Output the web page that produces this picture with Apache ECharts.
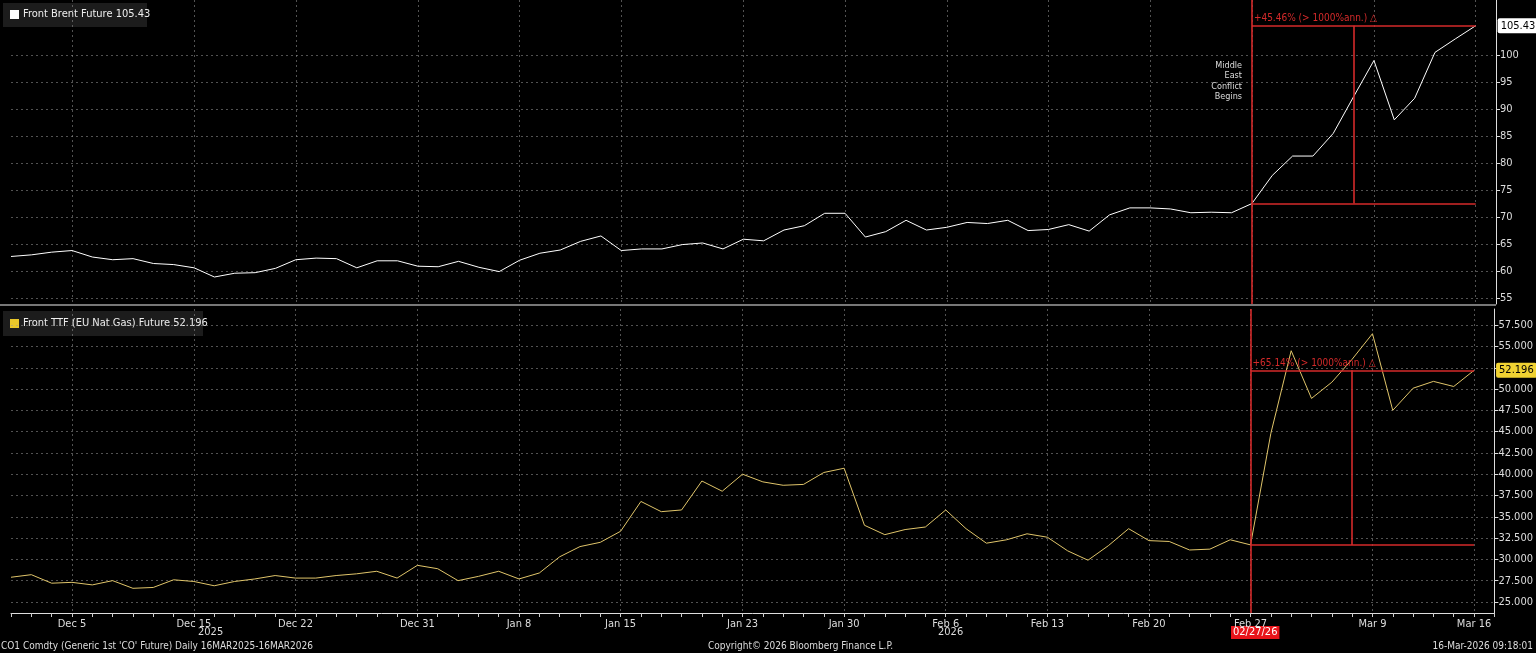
<!DOCTYPE html>
<html><head><meta charset="utf-8">
<script src="https://cdn.jsdelivr.net/npm/echarts@6/dist/echarts.min.js"></script>
<style>html,body{margin:0;padding:0;background:#000}#c{width:1536px;height:653px}</style>
</head><body><div id="c"></div>
<script>
const dates = ['Dec 2','Dec 3','Dec 4','Dec 5','Dec 8','Dec 9','Dec 10','Dec 11','Dec 12','Dec 15','Dec 16','Dec 17','Dec 18','Dec 19','Dec 22','Dec 23','Dec 24','Dec 26','Dec 29','Dec 30','Dec 31','Jan 2','Jan 5','Jan 6','Jan 7','Jan 8','Jan 9','Jan 12','Jan 13','Jan 14','Jan 15','Jan 16','Jan 19','Jan 20','Jan 21','Jan 22','Jan 23','Jan 26','Jan 27','Jan 28','Jan 29','Jan 30','Feb 2','Feb 3','Feb 4','Feb 5','Feb 6','Feb 9','Feb 10','Feb 11','Feb 12','Feb 13','Feb 16','Feb 17','Feb 18','Feb 19','Feb 20','Feb 23','Feb 24','Feb 25','Feb 26','Feb 27','Mar 2','Mar 3','Mar 4','Mar 5','Mar 6','Mar 9','Mar 10','Mar 11','Mar 12','Mar 13','Mar 16'];
const brent = [62.7,63.0,63.5,63.8,62.6,62.1,62.3,61.4,61.2,60.6,58.9,59.6,59.7,60.5,62.1,62.4,62.3,60.6,61.9,61.9,60.9,60.8,61.8,60.7,59.9,62.0,63.3,63.9,65.5,66.5,63.8,64.1,64.1,64.9,65.2,64.1,65.9,65.6,67.6,68.4,70.7,70.7,66.3,67.3,69.4,67.6,68.1,69.0,68.8,69.4,67.5,67.7,68.6,67.4,70.4,71.7,71.7,71.5,70.8,70.9,70.8,72.5,77.7,81.3,81.3,85.5,92.3,99.0,88.0,92.0,100.5,103.0,105.43];
const ttf = [27.9,28.2,27.2,27.3,27.0,27.5,26.6,26.7,27.6,27.4,26.9,27.4,27.7,28.1,27.8,27.8,28.1,28.3,28.6,27.8,29.3,28.9,27.5,28.0,28.6,27.7,28.4,30.3,31.5,32.0,33.3,36.8,35.6,35.8,39.2,38.0,40.0,39.1,38.7,38.8,40.2,40.7,34.0,32.9,33.5,33.8,35.8,33.6,31.9,32.3,33.0,32.6,31.0,29.9,31.6,33.6,32.2,32.1,31.1,31.2,32.3,31.7,44.8,54.5,48.9,50.8,53.5,56.5,47.5,50.1,50.9,50.3,52.196];
const xLabels = ['Dec 5','Dec 15','Dec 22','Dec 31','Jan 8','Jan 15','Jan 23','Jan 30','Feb 6','Feb 13','Feb 20','Feb 27','Mar 9','Mar 16'];
const brentTicks = [55,60,65,70,75,80,85,90,95,100];
const ttfTicks = [25,27.5,30,32.5,35,37.5,40,42.5,45,47.5,50,52.5,55,57.5];
const eventDate = 'Feb 27', measureDate = 'Mar 6';

const FF = 'DejaVu Sans Condensed, DejaVu Sans';
const RED = '#d42a2a', GOLD = '#e0c56a';
const axisCats = dates.concat(['']);
const isLab = (i,v)=> xLabels.indexOf(v)>=0;
const grid = 'rgba(150,150,150,0.55)';
const bStart = brent[dates.indexOf(eventDate)], bEnd = brent[brent.length-1];
const tStart = ttf[dates.indexOf(eventDate)], tEnd = ttf[ttf.length-1];
const last = dates[dates.length-1];
const LS = {color:RED, type:'solid', width:1.6, opacity:1};
function xa(idx, showLabels){
  return {type:'category', gridIndex:idx, data:axisCats, boundaryGap:false,
    axisLine:{show:showLabels, lineStyle:{color:'#ddd'}},
    axisTick:{show:showLabels, interval:0, length:4, lineStyle:{color:'#ccc'}},
    axisLabel:{show:showLabels, interval:isLab, color:'#ddd', fontFamily:FF, fontSize:11, margin:6},
    splitLine:{show:true, interval:isLab, lineStyle:{color:grid, type:[2,3]}}};
}
function ya(idx,min,max,ticks,fmt){
  return {type:'value', gridIndex:idx, position:'right', min:min, max:max,
    axisLine:{show:true, lineStyle:{color:'#ddd'}},
    axisTick:{show:true, length:4, customValues:ticks, lineStyle:{color:'#ddd'}},
    axisLabel:{customValues:ticks, color:'#ddd', fontFamily:FF, fontSize:11, margin:4, formatter:fmt},
    splitLine:{show:true, lineStyle:{color:grid, type:[2,3]}}};
}
function seg(a,b,extra){
  return [Object.assign({coord:a, lineStyle:LS}, extra||{}), {coord:b, lineStyle:LS}];
}
function marks(start, end, txt){
  return {silent:true, symbol:'none', lineStyle:LS, label:{show:false},
    emphasis:{disabled:true},
    data:[
      seg([eventDate,start],[last,start]),
      seg([eventDate,end],[last,end],{label:{show:true, position:'insideStartBottom', formatter:txt, color:RED, fontFamily:FF, fontSize:10, distance:[2,-12]}}),
      seg([measureDate,start],[measureDate,end]),
      {xAxis:eventDate, lineStyle:LS}
    ]};
}
const chart = echarts.init(document.getElementById('c'));
chart.setOption({
  backgroundColor:'#000', animation:false,
  grid:[{left:11,right:40,top:0,height:304},{left:11,right:40,top:309,height:304}],
  xAxis:[xa(0,false), xa(1,true)],
  yAxis:[ya(0,53.9,110.2,brentTicks,v=>String(v)), ya(1,23.7,59.4,ttfTicks,v=>v.toFixed(3))],
  series:[
    {type:'line', xAxisIndex:0, yAxisIndex:0, data:brent, symbol:'none', lineStyle:{color:'#fff',width:1},
     emphasis:{disabled:true},
     endLabel:{show:true, formatter:()=>bEnd.toFixed(2), distance:22, color:'#000', backgroundColor:'#fff', padding:[2,3], borderRadius:2, fontFamily:FF, fontSize:11},
     markLine:marks(bStart,bEnd,'+45.46% (> 1000%ann.) \u25B3')},
    {type:'line', xAxisIndex:1, yAxisIndex:1, data:ttf, symbol:'none', lineStyle:{color:GOLD,width:1},
     emphasis:{disabled:true},
     endLabel:{show:true, formatter:()=>tEnd.toFixed(3), distance:22, color:'#000', backgroundColor:'#f0d232', padding:[2,3], borderRadius:2, fontFamily:FF, fontSize:11},
     markLine:marks(tStart,tEnd,'+65.14% (> 1000%ann.) \u25B3')}
  ],
  graphic:[
    {type:'rect', left:0, top:304, shape:{width:1496,height:2}, style:{fill:'#777'}},
    {type:'group', left:3, top:3, children:[
      {type:'rect', shape:{width:144,height:24}, style:{fill:'#1c1c1c'}},
      {type:'rect', shape:{x:7,y:7,width:9,height:9}, style:{fill:'#fff'}},
      {type:'text', x:20, y:6, style:{text:'Front Brent Future 105.43', fill:'#eee', font:'11px '+FF}}]},
    {type:'group', left:3, top:311, children:[
      {type:'rect', shape:{width:200,height:25}, style:{fill:'#1c1c1c'}},
      {type:'rect', shape:{x:7,y:8,width:9,height:9}, style:{fill:'#e8c62a'}},
      {type:'text', x:20, y:7, style:{text:'Front TTF (EU Nat Gas) Future 52.196', fill:'#eee', font:'11px '+FF}}]},
    {type:'text', x:1242, y:60, style:{text:'Middle\nEast\nConflict\nBegins', fill:'#ddd', font:'9px '+FF, align:'right', lineHeight:10.5}},
    {type:'text', left:1231, top:626, style:{text:'02/27/26', fill:'#fff', backgroundColor:'#e8141a', padding:[1,2], font:'11px '+FF}},
    {type:'text', left:198, top:627, style:{text:'2025', fill:'#ddd', font:'11px '+FF}},
    {type:'text', left:938, top:627, style:{text:'2026', fill:'#ddd', font:'11px '+FF}},
    {type:'text', left:1, top:641, style:{text:"CO1 Comdty (Generic 1st 'CO' Future) Daily 16MAR2025-16MAR2026", fill:'#ddd', font:'10px '+FF}},
    {type:'text', left:708, top:641, style:{text:'Copyright\u00A9 2026 Bloomberg Finance L.P.', fill:'#ddd', font:'10px '+FF}},
    {type:'text', right:3, top:641, style:{text:'16-Mar-2026 09:18:01', fill:'#ddd', font:'10px '+FF}}
  ]
});
</script></body></html>
